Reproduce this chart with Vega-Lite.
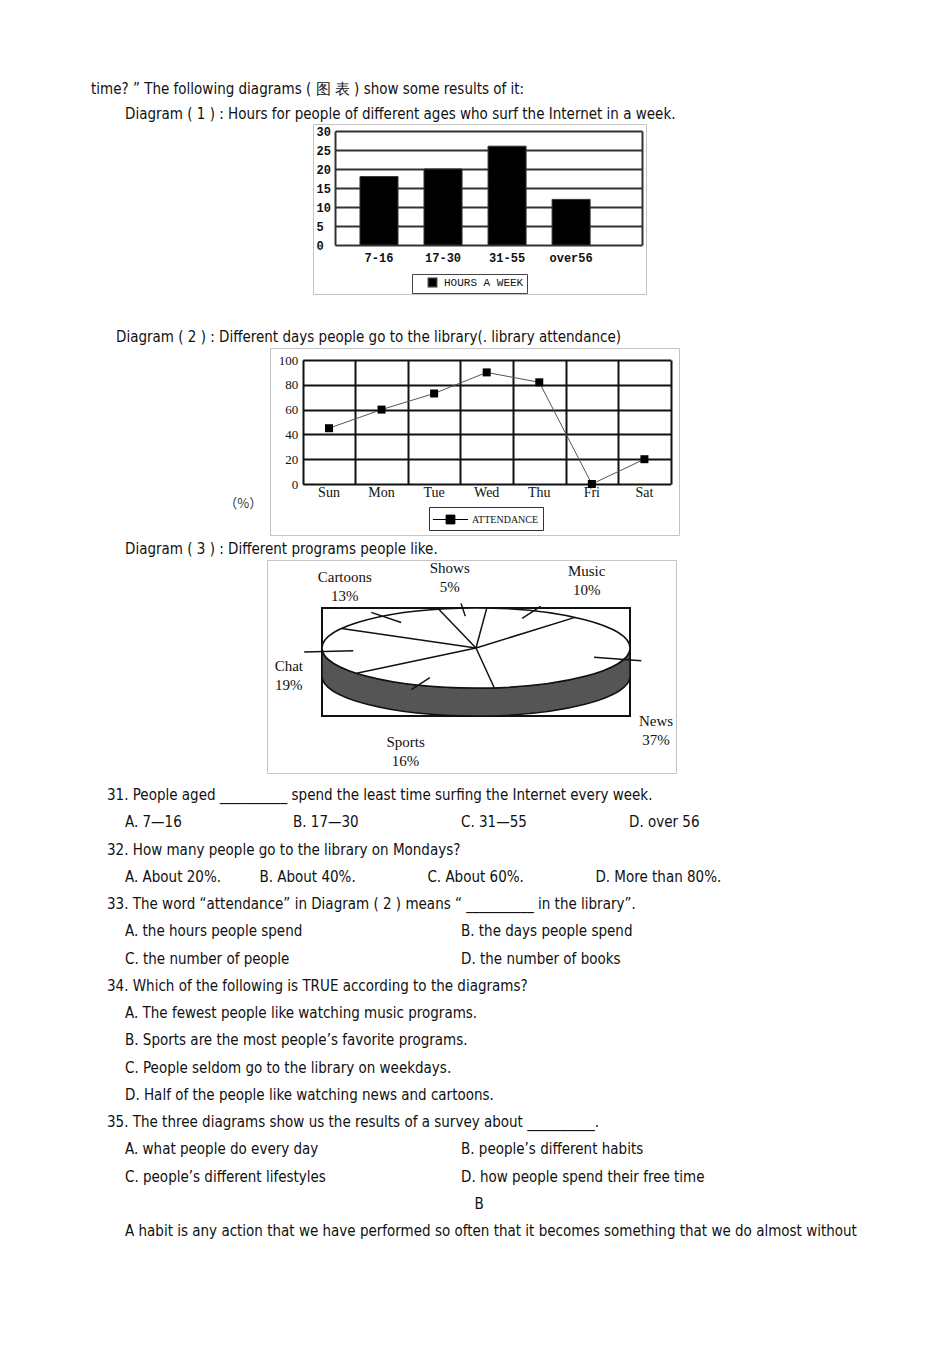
{
  "$schema": "https://vega.github.io/schema/vega-lite/v6.json",
  "padding": 0,
  "spacing": 0,
  "background": "white",
  "resolve": {"scale": {"color": "independent"}, "legend": {"color": "independent"}},
  "config": {
    "view": {"stroke": null},
    "axis": {"minExtent": 0},
    "font": "Liberation Sans Narrow, DejaVu Sans Condensed, sans-serif"
  },
  "vconcat": [
    {
      "width": 950,
      "height": 123,
      "data": {"values": [
        {"line": 1, "indent": 0, "text": "time? ” The following diagrams ( 图 表 ) show some results of it:"},
        {"line": 2, "indent": 1, "text": "Diagram ( 1 ) : Hours for people of different ages who surf the Internet in a week."}
      ]},
      "mark": {"type": "text", "align": "left", "baseline": "middle", "fontSize": 15, "color": "#111", "font": "Liberation Sans Narrow, DejaVu Sans Condensed, sans-serif"},
      "encoding": {
        "x": {"field": "indent", "type": "quantitative", "scale": {"domain": [0, 1], "range": [91, 125], "nice": false, "zero": false}, "axis": null},
        "y": {"field": "line", "type": "quantitative", "scale": {"domain": [1, 2], "range": [89, 114], "nice": false, "zero": false}, "axis": null},
        "text": {"field": "text"}
      }
    },
    {
      "resolve": {"scale": {"color": "independent"}, "legend": {"color": "independent"}},
      "hconcat": [
        {"width": 313, "height": 170, "data": {"values": [{"a": 1}]}, "mark": {"type": "point", "opacity": 0}},
        {
          "width": 333,
          "height": 170,
          "view": {"stroke": "#c4c4c4", "strokeWidth": 1},
          "data": {"values": [
            {"age": "7-16", "hours": 18, "series": "HOURS A WEEK"},
            {"age": "17-30", "hours": 20, "series": "HOURS A WEEK"},
            {"age": "31-55", "hours": 26, "series": "HOURS A WEEK"},
            {"age": "over56", "hours": 12, "series": "HOURS A WEEK"}
          ]},
          "layer": [
            {
              "mark": {"type": "bar", "stroke": "#333", "strokeWidth": 1},
              "encoding": {
                "x": {"field": "age", "type": "nominal", "sort": null,
                  "scale": {"type": "band", "range": [22, 329], "paddingInner": 0.406, "paddingOuter": 0.6, "align": 0.325},
                  "axis": {"orient": "bottom", "offset": -49, "title": null, "domain": false, "ticks": false, "tickSize": 0, "grid": false, "labelAngle": 0, "labelPadding": 7, "labelFont": "Liberation Mono", "labelFontSize": 12, "labelFontWeight": "bold", "labelColor": "#111"}},
                "y": {"field": "hours", "type": "quantitative",
                  "scale": {"domain": [0, 30], "range": [121, 7], "nice": false},
                  "axis": {"orient": "left", "offset": -22, "title": null, "values": [0, 5, 10, 15, 20, 25, 30], "tickCount": 20, "labelOverlap": false, "grid": true, "gridColor": "#333", "gridWidth": 2, "domain": true, "domainColor": "#333", "domainWidth": 2, "ticks": false, "tickSize": 0, "labelAlign": "left", "labelPadding": 19, "labelBaseline": "middle", "labelFont": "Liberation Mono", "labelFontSize": 12, "labelFontWeight": "bold", "labelColor": "#111"}},
                "color": {"field": "series", "type": "nominal", "scale": {"range": ["black"]},
                  "legend": {"title": null, "orient": "none", "legendX": 99, "legendY": 150, "direction": "horizontal", "symbolType": "square", "symbolSize": 70, "labelFont": "Liberation Mono", "labelFontSize": 11, "labelColor": "#111", "strokeColor": "#444", "padding": 3, "symbolOffset": 12, "labelOffset": 6, "labelLimit": 200, "labelExpr": "datum.label + '\u00a0\u00a0'"}}
              }
            },
            {
              "mark": {"type": "bar", "opacity": 0},
              "encoding": {
                "x": {"field": "age", "type": "nominal", "sort": null},
                "y": {"field": "hours", "type": "quantitative",
                  "axis": {"orient": "right", "offset": -4, "title": null, "labels": false, "ticks": false, "grid": false, "domain": true, "domainColor": "#333", "domainWidth": 2}}
              }
            }
          ],
          "resolve": {"axis": {"y": "independent"}}
        }
      ],
      "spacing": 0,
      "bounds": "flush"
    },
    {
      "width": 950,
      "height": 52,
      "data": {"values": [
        {"line": 0, "indent": 0, "text": "Diagram ( 2 ) : Different days people go to the library(. library attendance)"}
      ]},
      "mark": {"type": "text", "align": "left", "baseline": "middle", "fontSize": 15, "color": "#111", "font": "Liberation Sans Narrow, DejaVu Sans Condensed, sans-serif"},
      "encoding": {
        "x": {"field": "indent", "type": "quantitative", "scale": {"domain": [0, 1], "range": [116, 117], "nice": false, "zero": false}, "axis": null},
        "y": {"field": "line", "type": "quantitative", "scale": {"domain": [0, 1], "range": [42, 43], "nice": false, "zero": false}, "axis": null},
        "text": {"field": "text"}
      }
    },
    {
      "resolve": {"scale": {"color": "independent"}, "legend": {"color": "independent"}},
      "hconcat": [
        {"width": 270, "height": 187, "data": {"values": [{"a": 1}]}, "mark": {"type": "point", "opacity": 0}},
        {
          "width": 409,
          "height": 187,
          "view": {"stroke": "#c4c4c4", "strokeWidth": 1},
          "data": {"values": [
            {"day": "Sun", "attendance": 45, "series": "ATTENDANCE"},
            {"day": "Mon", "attendance": 60, "series": "ATTENDANCE"},
            {"day": "Tue", "attendance": 73, "series": "ATTENDANCE"},
            {"day": "Wed", "attendance": 90, "series": "ATTENDANCE"},
            {"day": "Thu", "attendance": 82, "series": "ATTENDANCE"},
            {"day": "Fri", "attendance": 0, "series": "ATTENDANCE"},
            {"day": "Sat", "attendance": 20, "series": "ATTENDANCE"}
          ]},
          "layer": [
            {
              "mark": {"type": "line", "color": "#555", "strokeWidth": 1},
              "encoding": {
                "x": {"field": "day", "type": "nominal", "sort": null,
                  "scale": {"type": "band", "range": [32.7, 400.7], "paddingInner": 0, "paddingOuter": 0},
                  "axis": {"orient": "top", "title": null, "tickBand": "extent", "grid": true, "gridColor": "#111", "gridWidth": 2, "domain": false, "ticks": false, "labels": false}},
                "y": {"field": "attendance", "type": "quantitative",
                  "scale": {"domain": [0, 100], "range": [136, 12], "nice": false},
                  "axis": {"orient": "left", "offset": -32.7, "values": [0, 20, 40, 60, 80, 100], "tickCount": 20, "labelOverlap": false, "grid": true, "gridColor": "#111", "gridWidth": 2, "domain": false, "ticks": false, "tickSize": 0, "labelPadding": 5, "labelBaseline": "middle", "labelFont": "Liberation Serif", "labelFontSize": 13, "labelColor": "#111",
                    "title": "（%）", "titleAngle": 0, "titleX": -60, "titleY": 155, "titleAlign": "center", "titleBaseline": "middle", "titleFont": "Noto Sans CJK SC", "titleFontSize": 13, "titleFontWeight": "normal", "titleColor": "#333"}}
              }
            },
            {
              "mark": {"type": "point", "shape": "square", "filled": true, "size": 64, "opacity": 1},
              "encoding": {
                "x": {"field": "day", "type": "nominal", "sort": null,
                  "axis": {"orient": "bottom", "offset": -51, "title": null, "grid": false, "domain": false, "ticks": false, "tickSize": 0, "labelAngle": 0, "labelPadding": 1, "labelFont": "Liberation Serif", "labelFontSize": 14, "labelColor": "#111"}},
                "y": {"field": "attendance", "type": "quantitative"},
                "color": {"field": "series", "type": "nominal", "scale": {"range": ["black"]},
                  "legend": {"title": null, "orient": "none", "legendX": 159, "legendY": 159, "direction": "horizontal", "symbolType": "M-2.2,0H-0.55M0.55,0H2.2M-0.55,-0.55H0.55V0.55H-0.55Z", "symbolSize": 256, "symbolStrokeColor": "black", "symbolStrokeWidth": 1, "symbolOffset": 9, "labelFont": "Liberation Serif", "labelFontSize": 10, "labelColor": "#111", "strokeColor": "#333", "padding": 4, "labelOffset": 13}}
              }
            }
          ],
          "resolve": {"axis": {"x": "independent"}}
        }
      ],
      "spacing": 0,
      "bounds": "flush"
    },
    {
      "width": 950,
      "height": 23,
      "data": {"values": [
        {"line": 0, "indent": 0, "text": "Diagram ( 3 ) : Different programs people like."}
      ]},
      "mark": {"type": "text", "align": "left", "baseline": "middle", "fontSize": 15, "color": "#111", "font": "Liberation Sans Narrow, DejaVu Sans Condensed, sans-serif"},
      "encoding": {
        "x": {"field": "indent", "type": "quantitative", "scale": {"domain": [0, 1], "range": [125, 126], "nice": false, "zero": false}, "axis": null},
        "y": {"field": "line", "type": "quantitative", "scale": {"domain": [0, 1], "range": [13, 14], "nice": false, "zero": false}, "axis": null},
        "text": {"field": "text"}
      }
    },
    {
      "resolve": {"scale": {"color": "independent"}, "legend": {"color": "independent"}},
      "hconcat": [
        {"width": 267, "height": 213, "data": {"values": [{"a": 1}]}, "mark": {"type": "point", "opacity": 0}},
        {
          "width": 409,
          "height": 213,
          "view": {"stroke": "#c4c4c4", "strokeWidth": 1},
          "data": {"values": [
            {"program": "Shows", "pct": 5, "order": 1},
            {"program": "Music", "pct": 10, "order": 2},
            {"program": "News", "pct": 37, "order": 3},
            {"program": "Sports", "pct": 16, "order": 4},
            {"program": "Chat", "pct": 19, "order": 5},
            {"program": "Cartoons", "pct": 13, "order": 6}
          ]},
          "transform": [
            {"window": [{"op": "sum", "field": "pct", "as": "cum"}], "sort": [{"field": "order"}], "frame": [null, 0]},
            {"calculate": "(-14 + 3.6 * datum.cum) * PI / 180", "as": "a1"},
            {"calculate": "(-14 + 3.6 * (datum.cum - datum.pct / 2)) * PI / 180", "as": "am"},
            {"calculate": "sin(datum.am)", "as": "sm"},
            {"calculate": "cos(datum.am)", "as": "cm"},
            {"calculate": "0", "as": "c0"},
            {"calculate": "0.35", "as": "cf"},
            {"calculate": "sin(datum.a1)", "as": "ex"},
            {"calculate": "-cos(datum.a1)", "as": "ey"},
            {"calculate": "datum.cm > 0 ? 0.065 + 1.3 * (datum.sm < 0 ? -1 : 1) * pow(abs(datum.sm), 0.7) : 1.22 * datum.sm", "as": "lx"},
            {"calculate": "datum.cm > 0 ? 0.26 - 2.26 * pow(datum.cm, 0.46) : 0.26 - 2.26 * datum.cm + (datum.sm > 0 ? 0.93 : 0)", "as": "ly"},
            {"calculate": "0.8 * datum.sm", "as": "k1x"},
            {"calculate": "-0.8 * datum.cm", "as": "k1y"},
            {"calculate": "1.12 * datum.sm", "as": "k2x"},
            {"calculate": "-1.12 * datum.cm", "as": "k2y"},
            {"calculate": "datum.program + '\\n' + datum.pct + '%'", "as": "label"}
          ],
          "layer": [
            {
              "transform": [{"filter": "datum.order == 1"}],
              "mark": {"type": "point", "shape": "M-1,-0.3506H1V0.3506H-1Z", "size": 94864, "filled": false, "color": "#111", "strokeWidth": 2, "opacity": 1},
              "encoding": {
                "x": {"field": "c0", "type": "quantitative", "scale": {"domain": [-1, 1], "range": [55, 363], "nice": false, "zero": false}, "axis": null},
                "y": {"field": "cf", "type": "quantitative", "scale": {"domain": [-1, 1], "range": [48, 128], "nice": false, "zero": false}, "axis": null}
              }
            },
            {
              "transform": [{"filter": "datum.order == 1"}],
              "mark": {"type": "point", "shape": "M-1,0 C-1,0.1436 -0.5523,0.26 0,0.26 C0.5523,0.26 1,0.1436 1,0 L1,0.182 C1,0.3256 0.5523,0.442 0,0.442 C-0.5523,0.442 -1,0.3256 -1,0.182 Z", "size": 94864, "filled": true, "fill": "#555555", "stroke": "#111", "strokeWidth": 1.5, "opacity": 1},
              "encoding": {
                "x": {"field": "c0", "type": "quantitative"},
                "y": {"field": "c0", "type": "quantitative"}
              }
            },
            {
              "transform": [{"filter": "datum.order == 1"}],
              "mark": {"type": "point", "shape": "M-1,0 C-1,-0.1436 -0.5523,-0.26 0,-0.26 C0.5523,-0.26 1,-0.1436 1,0 C1,0.1436 0.5523,0.26 0,0.26 C-0.5523,0.26 -1,0.1436 -1,0 Z", "size": 94864, "filled": true, "fill": "white", "stroke": "#111", "strokeWidth": 1.5, "opacity": 1},
              "encoding": {
                "x": {"field": "c0", "type": "quantitative"},
                "y": {"field": "c0", "type": "quantitative"}
              }
            },
            {
              "mark": {"type": "rule", "color": "#111", "strokeWidth": 1.5},
              "encoding": {
                "x": {"field": "c0", "type": "quantitative"},
                "y": {"field": "c0", "type": "quantitative"},
                "x2": {"field": "ex"},
                "y2": {"field": "ey"}
              }
            },
            {
              "mark": {"type": "rule", "color": "#111", "strokeWidth": 1.5},
              "encoding": {
                "x": {"field": "k1x", "type": "quantitative"},
                "y": {"field": "k1y", "type": "quantitative"},
                "x2": {"field": "k2x"},
                "y2": {"field": "k2y"}
              }
            },
            {
              "mark": {"type": "text", "lineBreak": "\n", "font": "Liberation Serif", "fontSize": 15, "lineHeight": 19, "baseline": "middle", "align": "center", "color": "#111"},
              "encoding": {
                "x": {"field": "lx", "type": "quantitative"},
                "y": {"field": "ly", "type": "quantitative"},
                "text": {"field": "label"}
              }
            }
          ]
        }
      ],
      "spacing": 0,
      "bounds": "flush"
    },
    {
      "width": 950,
      "height": 573,
      "data": {"values": [
        {"line": 0, "kind": "q", "col": 0, "text": "31. People aged  __________  spend the least time surfing the Internet every week."},
        {"line": 1, "kind": "o", "col": 0, "text": "A. 7—16"},
        {"line": 1, "kind": "o", "col": 1, "text": "B. 17—30"},
        {"line": 1, "kind": "o", "col": 2, "text": "C. 31—55"},
        {"line": 1, "kind": "o", "col": 3, "text": "D. over 56"},
        {"line": 2, "kind": "q", "col": 0, "text": "32. How many people go to the library on Mondays?"},
        {"line": 3, "kind": "o", "col": 0, "text": "A. About 20%."},
        {"line": 3, "kind": "o", "col": 0.8, "text": "B. About 40%."},
        {"line": 3, "kind": "o", "col": 1.8, "text": "C. About 60%."},
        {"line": 3, "kind": "o", "col": 2.8, "text": "D. More than 80%."},
        {"line": 4, "kind": "q", "col": 0, "text": "33. The word “attendance” in Diagram ( 2 ) means “  __________  in the library”."},
        {"line": 5, "kind": "o", "col": 0, "text": "A. the hours people spend"},
        {"line": 5, "kind": "o", "col": 2, "text": "B. the days people spend"},
        {"line": 6, "kind": "o", "col": 0, "text": "C. the number of people"},
        {"line": 6, "kind": "o", "col": 2, "text": "D. the number of books"},
        {"line": 7, "kind": "q", "col": 0, "text": "34. Which of the following is TRUE according to the diagrams?"},
        {"line": 8, "kind": "o", "col": 0, "text": "A. The fewest people like watching music programs."},
        {"line": 9, "kind": "o", "col": 0, "text": "B. Sports are the most people’s favorite programs."},
        {"line": 10, "kind": "o", "col": 0, "text": "C. People seldom go to the library on weekdays."},
        {"line": 11, "kind": "o", "col": 0, "text": "D. Half of the people like watching news and cartoons."},
        {"line": 12, "kind": "q", "col": 0, "text": "35. The three diagrams show us the results of a survey about __________."},
        {"line": 13, "kind": "o", "col": 0, "text": "A. what people do every day"},
        {"line": 13, "kind": "o", "col": 2, "text": "B. people’s different habits"},
        {"line": 14, "kind": "o", "col": 0, "text": "C. people’s different lifestyles"},
        {"line": 14, "kind": "o", "col": 2, "text": "D. how people spend their free time"},
        {"line": 15, "kind": "c", "col": 2, "text": "B"},
        {"line": 16, "kind": "o", "col": 0, "text": "A habit is any action that we have performed so often that it becomes something that we do almost without"}
      ]},
      "encoding": {
        "x": {"field": "col", "type": "quantitative", "scale": {"domain": [0, 3], "range": [125, 629], "nice": false, "zero": false}, "axis": null},
        "y": {"field": "line", "type": "quantitative", "scale": {"domain": [0, 16], "range": [21, 457], "nice": false, "zero": false}, "axis": null},
        "text": {"field": "text"}
      },
      "layer": [
        {"transform": [{"filter": "datum.kind == 'o'"}], "mark": {"type": "text", "align": "left", "baseline": "middle", "fontSize": 15, "color": "#111"}},
        {"transform": [{"filter": "datum.kind == 'q'"}], "mark": {"type": "text", "align": "left", "baseline": "middle", "fontSize": 15, "color": "#111", "dx": -18}},
        {"transform": [{"filter": "datum.kind == 'c'"}], "mark": {"type": "text", "align": "center", "baseline": "middle", "fontSize": 15, "color": "#111", "dx": 18}}
      ]
    }
  ]
}
